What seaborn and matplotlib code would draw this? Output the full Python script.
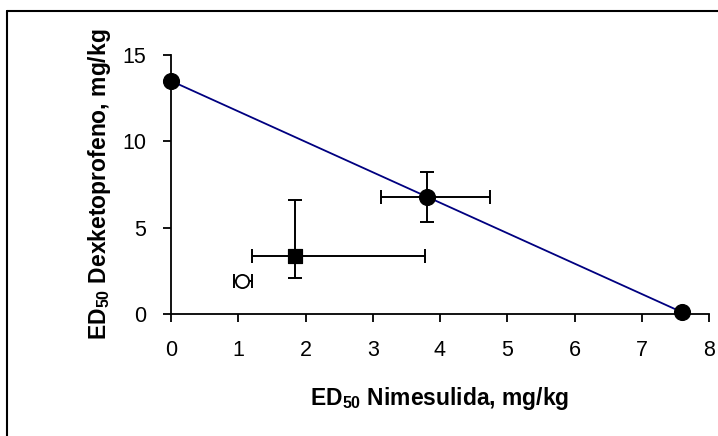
import numpy as np
import pandas as pd
import matplotlib
matplotlib.use("Agg")
import matplotlib.pyplot as plt
from matplotlib.lines import Line2D
import seaborn as sns

# ED50 values (mg/kg)
nime_single = [0.0, 7.6]
dexk_single = [13.5, 0.1]

theo_x, theo_y = 3.8, 6.75
theo_xerr = [[0.68], [0.95]]
theo_yerr = [[1.4], [1.45]]

exp_x, exp_y = 1.85, 3.35
exp_xerr = [[0.65], [1.93]]
exp_yerr = [[1.25], [3.25]]

open_x, open_y = 1.05, 1.9
open_xerr = [[0.12], [0.16]]

sns.set_style("white")
plt.rcParams["font.family"] = ["Liberation Sans", "DejaVu Sans"]
plt.rcParams["mathtext.fontset"] = "custom"
plt.rcParams["mathtext.rm"] = "Liberation Sans:bold"
plt.rcParams["mathtext.bf"] = "Liberation Sans:bold"
plt.rcParams["text.color"] = "black"
plt.rcParams["axes.labelcolor"] = "black"
plt.rcParams["xtick.color"] = "black"
plt.rcParams["ytick.color"] = "black"

fig = plt.figure(figsize=(7.18, 4.36), dpi=100)
# frame of the original picture: only top and left edges are visible
fig.add_artist(Line2D([7 / 718, 1.0], [1 - 11.5 / 436] * 2, transform=fig.transFigure,
                      color="black", linewidth=1.5))
fig.add_artist(Line2D([7 / 718] * 2, [0.0, 1 - 11.5 / 436], transform=fig.transFigure,
                      color="black", linewidth=1.5))
ax = fig.add_axes([171 / 718, 1 - 314 / 436, 538 / 718, 259 / 436])

iso = pd.DataFrame({"nime": nime_single, "dexk": dexk_single})
sns.lineplot(data=iso, x="nime", y="dexk", color="#000080", linewidth=1.3, ax=ax)

for ex, ey, xe, ye in [(theo_x, theo_y, theo_xerr, theo_yerr),
                       (exp_x, exp_y, exp_xerr, exp_yerr),
                       (open_x, open_y, open_xerr, None)]:
    ax.errorbar(ex, ey, xerr=xe, yerr=ye, fmt="none", ecolor="black",
                elinewidth=1.4, capsize=5, capthick=1.4)

pts = pd.DataFrame({"nime": nime_single + [theo_x], "dexk": dexk_single + [theo_y]})
sns.scatterplot(data=pts, x="nime", y="dexk", color="black", s=130,
                marker="o", edgecolor="black", clip_on=False, zorder=5, ax=ax)
sns.scatterplot(x=[exp_x], y=[exp_y], color="black", s=115, marker="s",
                edgecolor="black", zorder=5, ax=ax)
sns.scatterplot(x=[open_x], y=[open_y], facecolor="white", s=90, marker="o",
                edgecolor="black", linewidth=1.3, zorder=5, ax=ax)

ax.set_xlim(0, 8)
ax.set_ylim(0, 15)
ax.set_xticks(range(0, 9))
ax.set_yticks([0, 5, 10, 15])
for side in ["top", "right"]:
    ax.spines[side].set_visible(False)
for side in ["left", "bottom"]:
    ax.spines[side].set_color("black")
    ax.spines[side].set_linewidth(1.3)
ax.tick_params(direction="out", length=6, width=1.3, colors="black",
               labelsize=15.5, pad=6, left=True, bottom=True)
ax.tick_params(axis="x", pad=13)
ax.tick_params(axis="y", pad=12)

ax.set_xlabel(r"ED$_{50}$ Nimesulida, mg/kg", fontsize=16.5, fontweight="bold", labelpad=17)
ax.set_ylabel(r"ED$_{50}$ Dexketoprofeno, mg/kg", fontsize=16.5, fontweight="bold", labelpad=6.5)

fig.savefig("out.png", dpi=100)
